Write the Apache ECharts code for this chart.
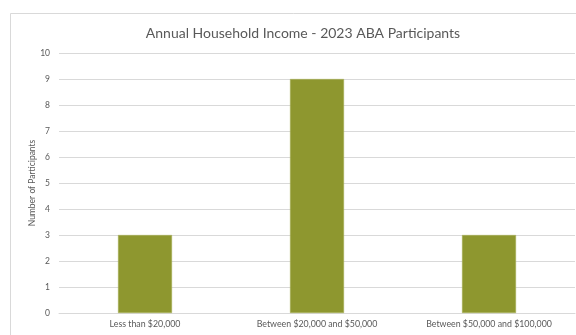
<!DOCTYPE html>
<html>
<head>
<meta charset="utf-8">
<script src="https://cdn.jsdelivr.net/npm/echarts@6/dist/echarts.min.js"></script>
<style>
  html, body { margin: 0; padding: 0; background: #fff; }
  #chart { width: 576px; height: 335px; }
</style>
</head>
<body>
<div id="chart"></div>
<script>
// Income brackets and number of participants in each
const categories = ['Less than $20,000', 'Between $20,000 and $50,000', 'Between $50,000 and $100,000'];
const participants = [3, 9, 3];
const yTicks = [0, 1, 2, 3, 4, 5, 6, 7, 8, 9, 10];

const chart = echarts.init(document.getElementById('chart'), null, { renderer: 'canvas' });
const textColor = '#595959';
const font = 'Lato, "Open Sans", sans-serif';

chart.setOption({
  animation: false,
  backgroundColor: '#ffffff',
  graphic: [{
    type: 'rect',
    shape: { x: 10.5, y: 13.5, width: 700, height: 400 },
    style: { fill: 'none', stroke: '#d9d9d9', lineWidth: 1 },
    silent: true
  }],
  title: {
    text: 'Annual Household Income - 2023 ABA Participants',
    left: 298,
    textAlign: 'center',
    top: 21,
    textStyle: { color: textColor, fontSize: 14, fontWeight: 'normal', fontFamily: font }
  },
  grid: { left: 59, right: 1, top: 53, bottom: 22 },
  xAxis: {
    type: 'category',
    data: categories,
    axisLine: { show: true, lineStyle: { color: '#d9d9d9' } },
    axisTick: { show: false },
    axisLabel: { color: textColor, fontSize: 8.8, fontFamily: font, margin: 7, interval: 0 }
  },
  yAxis: {
    type: 'value',
    min: yTicks[0],
    max: yTicks[yTicks.length - 1],
    interval: 1,
    name: 'Number of Participants',
    nameLocation: 'middle',
    nameGap: 22,
    nameMoveOverlap: false,
    nameTextStyle: { color: textColor, fontSize: 8.5, fontFamily: font },
    axisLine: { show: false },
    axisTick: { show: false },
    axisLabel: { color: textColor, fontSize: 8.5, fontFamily: font, margin: 9 },
    splitLine: { lineStyle: { color: '#d9d9d9', width: 1 } }
  },
  series: [{
    type: 'bar',
    data: participants,
    barWidth: 54,
    itemStyle: { color: '#8e972f', borderColor: '#a9b05a', borderWidth: 0.5 }
  }]
});
</script>
</body>
</html>
